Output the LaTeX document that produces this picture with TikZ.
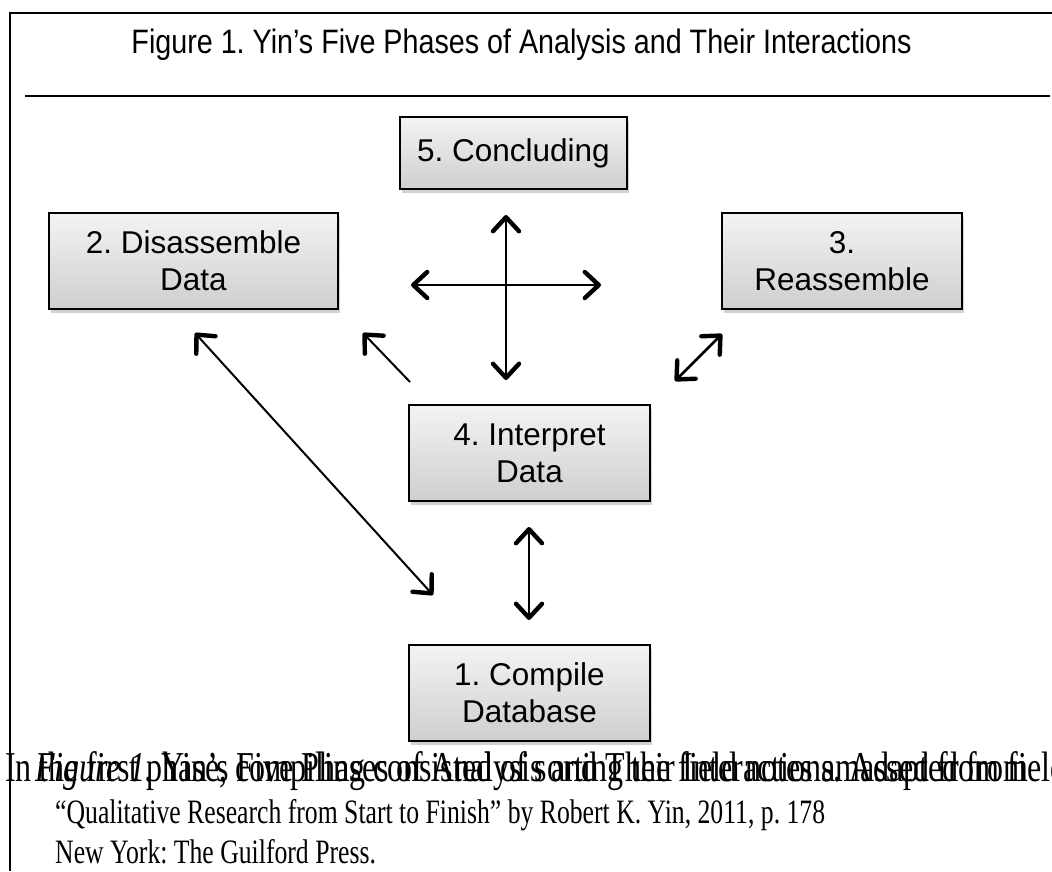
\documentclass[tikz,border=0pt]{standalone}
\usepackage{graphicx}
\usepackage{fontspec}
\setmainfont{Liberation Serif}
\newfontfamily\arialfont{Liberation Sans}
\usetikzlibrary{arrows.meta,shadows}
\newcommand{\titlestretch}[1]{\scalebox{1}[1.18]{#1}}
\newcommand{\capstretch}[1]{\scalebox{1}[1.33]{#1}}
\tikzset{
  phase/.style={draw=black, line width=1.6pt, top color=gray!9, bottom color=gray!38,
    drop shadow={opacity=0.35, shadow xshift=1.5pt, shadow yshift=-3.5pt},
    align=center, inner sep=0pt, font=\arialfont\fontsize{31.5}{37}\selectfont},
  tip/.tip={Straight Barb[length=14pt, width=26pt, line width=4.4pt, round]},
  thinlink/.style={line width=2pt},
  thicklink/.style={line width=2.8pt},
  frame/.style={line width=2.2pt},
  captext/.style={anchor=base west, inner sep=0pt, font=\fontsize{25.7}{30}\selectfont},
  capfirst/.style={anchor=base west, inner sep=0pt, font=\fontsize{32}{30}\selectfont}
}
\begin{document}
\frenchspacing
\begin{tikzpicture}[x=1pt, y=-1pt]
\useasboundingbox (0,0) rectangle (1052,871);
\fill[white] (0,0) rectangle (1052,871);
% frame
\coordinate (ftl) at (10,13);
\coordinate (ftr) at (1052,13);
\coordinate (fbl) at (10,871);
\draw[frame] (ftr) -- (ftl) -- (fbl);
\coordinate (sepl) at (25,96);
\coordinate (sepr) at (1050,96);
\draw[line width=1.4pt] (sepl) -- (sepr);
% title
\node[font=\arialfont\fontsize{28.7}{34}\selectfont, inner sep=0pt] (title) at (521.5,45)
  {\titlestretch{Figure 1. Yin’s Five Phases of Analysis and Their Interactions}};
% phases
\node[phase, minimum width=227pt, minimum height=72pt] (b5) at (513.5,153) {5. Concluding};
\node[phase, minimum width=289pt, minimum height=96pt] (b2) at (193.5,261) {2. Disassemble\\Data};
\node[phase, minimum width=240pt, minimum height=96pt] (b3) at (842,261) {3.\\Reassemble};
\node[phase, minimum width=241pt, minimum height=96pt] (b4) at (529.5,453) {4. Interpret\\Data};
\node[phase, minimum width=241pt, minimum height=96pt] (b1) at (529.5,693) {1. Compile\\Database};
% arrow end points
\coordinate (v1t) at (506,215);  \coordinate (v1b) at (506,380);
\coordinate (h1l) at (411,285);  \coordinate (h1r) at (601,285);
\coordinate (s1a) at (410,382);  \coordinate (s1b) at (363,333);
\coordinate (d1a) at (195,333);  \coordinate (d1b) at (433,595);
\coordinate (r1a) at (675,381);  \coordinate (r1b) at (722,334);
\coordinate (v2t) at (529,527);  \coordinate (v2b) at (529,620);
\draw[thicklink, {tip}-{tip}] (v1t) -- (v1b);
\draw[thicklink, {tip}-{tip}] (h1l) -- (h1r);
\draw[thinlink, -{tip}] (s1a) -- (s1b);
\draw[thinlink, {tip}-{tip}] (d1a) -- (d1b);
\draw[thicklink, {tip}-{tip}] (r1a) -- (r1b);
\draw[thicklink, {tip}-{tip}] (v2t) -- (v2b);
% caption
\begin{scope}
\clip (0,0) rectangle (1052,871);
\node[capfirst] (capA) at (5,781) {\capstretch{In the first phase, compiling consisted of sorting the field notes amassed from field}};
\node[capfirst] (capB) at (35,781) {\capstretch{\textit{Figure 1.} Yin’s Five Phases of Analysis and Their Interactions. Adapted from}};
\node[captext] (capC) at (55,823) {\capstretch{“Qualitative Research from Start to Finish” by Robert K. Yin, 2011, p. 178}};
\node[captext] (capD) at (55,863) {\capstretch{New York: The Guilford Press.}};
\end{scope}
\end{tikzpicture}
\end{document}
